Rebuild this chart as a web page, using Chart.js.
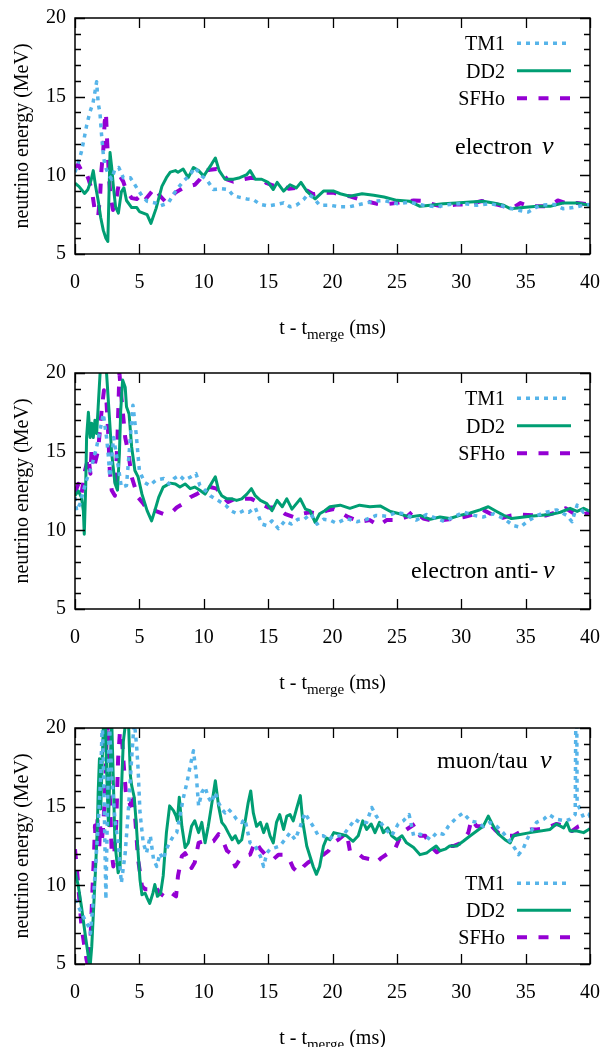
<!DOCTYPE html>
<html><head><meta charset="utf-8">
<script src="https://cdn.jsdelivr.net/npm/chart.js@4.4.0/dist/chart.umd.min.js"></script>
<style>
html,body{margin:0;padding:0;background:#fff;overflow:hidden;width:608px;height:1047px;}
.p{position:absolute;left:0;width:608px;height:355px;}
canvas{display:block;}
</style></head><body>
<div class="p" style="top:0px"><canvas id="c1" width="608" height="355"></canvas></div>
<div class="p" style="top:355px"><canvas id="c2" width="608" height="355"></canvas></div>
<div class="p" style="top:710px"><canvas id="c3" width="608" height="355"></canvas></div>
<script>
// ---- axis ticks ----
const xTicks = [0, 5, 10, 15, 20, 25, 30, 35, 40];
const yTicks = [5, 10, 15, 20];
const seriesNames = ['TM1', 'DD2', 'SFHo'];
const panelLabels = ['electron', 'electron anti-', 'muon/tau'];

// ---- panel 1: electron neutrino, [t (ms), energy (MeV)] ----
const nue_TM1 = [[0,10.2],[0.25,10.8],[0.5,11.5],[0.65,12.1],[0.9,13.15],[1.15,14.0],[1.4,14.6],[1.55,15.3],[1.68,15.95],[1.8,14.6],[1.94,13.96],[2.05,12.7],[2.2,11.3],[2.33,10.6],[2.6,10.05],[2.85,9.75],[3.1,10.4],[3.4,10.5],[3.75,9.85],[4.3,9.85],[4.8,9.2],[5.2,8.7],[5.6,8.35],[6.2,8.25],[6.6,8.05],[7.25,8.25],[7.9,9.1],[8.4,9.6],[8.95,10.05],[9.3,10.5],[9.85,9.95],[10.2,9.75],[10.5,9.4],[10.75,9.1],[11.4,9.15],[11.9,9.1],[12.3,8.7],[12.8,8.6],[13.35,8.5],[13.85,8.45],[14.4,8.15],[15.0,8.05],[15.7,8.15],[16.2,8.25],[16.7,8.0],[17.2,8.1],[17.75,8.45],[18.1,8.8],[18.5,8.6],[19.0,8.1],[19.8,8.1],[20.5,8.0],[21.3,8.0],[22.1,8.15],[23.2,8.35],[24.0,8.4],[25.0,8.2],[26.0,8.3],[27.05,8.1],[28.1,8.0],[29.1,8.15],[30.2,8.2],[31.2,8.1],[32.2,8.2],[33.3,8.03],[34.3,7.8],[35.2,7.67],[36.1,8.1],[37.2,8.15],[37.9,7.88],[38.7,7.95],[39.5,8.1],[40.0,8.15]];
const nue_DD2 = [[0,9.5],[0.3,9.3],[0.75,8.85],[1.0,9.1],[1.25,9.7],[1.42,10.3],[1.6,9.3],[1.8,8.4],[2.0,7.3],[2.2,6.5],[2.4,6.0],[2.55,5.8],[2.72,11.45],[2.85,10.5],[2.98,9.3],[3.15,8.0],[3.37,7.6],[3.6,8.95],[3.8,9.2],[4.0,8.4],[4.4,7.95],[4.8,7.95],[5.0,7.7],[5.3,7.6],[5.6,7.5],[5.9,6.95],[6.3,7.9],[6.75,9.3],[7.1,9.85],[7.4,10.2],[7.8,10.3],[8.0,10.2],[8.4,10.4],[8.8,9.85],[9.2,10.5],[9.6,10.3],[10.0,9.95],[10.35,10.4],[10.6,10.7],[10.9,11.1],[11.2,10.3],[11.65,9.75],[12.3,9.75],[12.8,9.85],[13.35,10.05],[13.6,10.3],[14.0,9.75],[14.5,9.75],[15.0,9.55],[15.4,9.1],[15.7,9.55],[16.2,9.0],[16.7,9.4],[17.2,9.2],[17.55,9.55],[18.0,9.0],[18.65,8.5],[19.3,9.0],[20.1,9.0],[20.6,8.83],[21.35,8.67],[22.3,8.83],[23.2,8.73],[24.0,8.62],[25.0,8.41],[26.0,8.35],[26.8,8.03],[27.6,8.1],[28.6,8.2],[29.6,8.24],[30.7,8.3],[31.7,8.35],[32.5,8.24],[33.3,8.1],[33.8,7.88],[34.8,7.95],[35.9,8.03],[36.9,8.03],[37.9,8.24],[39.0,8.24],[40.0,8.1]];
const nue_SFHo = [[0,10.5],[0.25,10.7],[0.5,10.3],[0.8,10.3],[1.05,9.75],[1.3,9.1],[1.55,7.7],[1.8,7.4],[1.95,8.7],[2.05,10.3],[2.2,11.65],[2.3,13.35],[2.4,14.0],[2.5,12.1],[2.65,9.75],[2.75,8.7],[2.95,7.8],[3.2,8.45],[3.5,9.95],[3.75,9.6],[3.95,9.1],[4.4,8.55],[4.8,8.5],[5.2,8.8],[5.45,8.45],[5.8,8.8],[6.2,9.2],[6.6,8.7],[7.0,8.35],[7.4,8.55],[7.8,8.9],[8.3,9.15],[8.8,9.3],[9.3,9.4],[9.7,9.75],[10.1,10.3],[10.5,10.35],[11.0,10.4],[11.4,10.2],[11.8,9.75],[12.3,9.6],[13.1,9.75],[13.7,9.85],[14.4,9.75],[14.9,9.5],[15.4,9.35],[16.2,9.3],[16.6,9.15],[17.2,9.2],[17.9,9.1],[18.5,8.8],[19.3,8.9],[20.1,8.9],[20.6,8.73],[21.35,8.67],[22.4,8.4],[23.4,8.2],[24.1,8.15],[25.5,8.3],[26.3,8.4],[27.05,8.37],[27.6,8.2],[28.6,8.0],[29.6,8.15],[30.2,8.15],[31.0,8.24],[31.6,8.37],[32.5,8.2],[33.0,8.1],[33.9,7.88],[34.6,8.24],[35.3,8.03],[36.0,8.03],[36.8,8.03],[37.5,8.4],[38.3,8.2],[39.0,8.24],[39.5,8.2],[40.0,8.15]];

// ---- panel 2: electron anti-neutrino ----
const nuebar_TM1 = [[0,12.1],[0.13,11.25],[0.4,11.7],[0.65,12.5],[0.9,13.2],[1.17,13.8],[1.42,14.45],[1.68,15.3],[1.94,16.35],[2.2,17.4],[2.45,15.9],[2.6,14.65],[2.7,13.4],[2.85,14.65],[3.0,15.9],[3.25,14.65],[3.6,12.75],[4.0,12.85],[4.3,15.9],[4.5,17.95],[4.75,16.15],[5.0,13.8],[5.4,13.05],[5.8,12.85],[6.3,13.2],[6.9,13.3],[7.3,12.95],[7.7,13.3],[8.1,13.5],[8.5,13.2],[9.0,13.4],[9.4,13.6],[9.7,12.85],[10.1,12.55],[10.5,12.2],[10.9,12.0],[11.3,11.8],[11.7,11.6],[12.1,11.25],[12.6,11.05],[13.1,11.25],[13.5,11.15],[14.0,11.45],[14.5,10.4],[14.9,10.3],[15.3,10.6],[15.8,10.1],[16.3,10.6],[16.8,10.4],[17.3,10.7],[17.8,10.7],[18.3,11.05],[18.8,10.4],[19.3,10.7],[19.8,10.65],[20.3,10.45],[21.1,10.75],[21.9,10.55],[22.65,10.7],[23.4,10.95],[24.2,10.9],[25.0,11.15],[25.75,11.0],[26.5,10.65],[27.3,11.0],[28.1,10.75],[28.7,10.55],[29.4,10.85],[30.2,11.15],[31.0,10.95],[31.7,10.85],[32.5,11.05],[33.3,10.75],[34.05,10.3],[34.6,10.2],[35.1,10.55],[35.9,10.95],[36.6,11.15],[37.4,11.3],[38.2,10.95],[38.6,10.55],[39.0,11.6],[39.5,11.15],[40.0,11.25]];
const nuebar_DD2 = [[0,12.2],[0.26,12.5],[0.5,12.1],[0.65,11.25],[0.72,9.75],[0.83,12.75],[0.9,15.9],[1.04,17.5],[1.17,15.9],[1.3,16.8],[1.42,15.9],[1.55,17.0],[1.68,16.15],[1.8,17.85],[1.95,20.0],[2.1,21.5],[2.3,21.0],[2.45,20.0],[2.6,18.1],[2.85,14.9],[3.1,13.0],[3.3,12.55],[3.45,14.9],[3.55,17.6],[3.7,19.55],[3.9,19.1],[4.0,17.85],[4.2,17.4],[4.4,15.3],[4.65,13.8],[4.9,13.4],[5.2,12.3],[5.6,11.25],[5.95,10.6],[6.2,11.25],[6.5,12.1],[6.85,12.75],[7.4,13.0],[7.8,12.95],[8.15,12.75],[8.55,12.95],[8.95,12.65],[9.3,12.75],[9.7,12.55],[10.1,12.3],[10.5,12.85],[10.9,13.4],[11.15,12.55],[11.4,12.2],[11.8,12.0],[12.2,12.0],[12.55,11.9],[12.95,12.0],[13.35,12.3],[13.7,12.65],[14.0,12.2],[14.4,11.9],[14.9,11.7],[15.3,11.25],[15.7,11.9],[16.1,11.5],[16.45,12.0],[16.85,11.35],[17.5,12.0],[17.9,11.35],[18.25,11.25],[18.65,10.5],[19.0,11.05],[19.4,11.25],[19.8,11.5],[20.6,11.6],[21.35,11.4],[22.1,11.6],[22.9,11.5],[23.7,11.55],[24.5,11.2],[25.2,11.05],[26.0,10.85],[26.8,10.95],[27.6,10.7],[28.35,10.85],[29.1,10.75],[29.9,10.95],[30.7,11.1],[31.45,11.3],[32.1,11.5],[32.75,11.2],[33.3,10.95],[33.9,10.75],[35.35,10.9],[36.9,11.0],[37.7,11.15],[38.45,11.4],[39.0,11.2],[39.5,11.4],[40.0,11.2]];
const nuebar_SFHo = [[0,12.4],[0.26,12.95],[0.5,12.3],[0.78,13.8],[1.04,14.65],[1.2,13.6],[1.3,15.3],[1.45,13.9],[1.55,14.25],[1.8,15.1],[2.07,17.65],[2.25,18.9],[2.45,18.1],[2.6,15.9],[2.7,13.8],[2.85,12.55],[3.1,12.2],[3.3,15.9],[3.45,20.0],[3.6,18.5],[3.9,15.9],[4.15,14.9],[4.4,13.4],[4.65,12.75],[4.9,12.1],[5.3,11.7],[5.7,11.25],[6.2,11.25],[6.85,11.05],[7.4,11.05],[7.9,11.45],[8.4,11.7],[8.95,12.1],[9.45,12.3],[9.95,12.55],[10.5,12.75],[11.0,12.65],[11.4,12.2],[11.9,11.8],[12.4,12.0],[13.1,12.0],[13.7,12.0],[14.4,11.7],[15.0,11.45],[15.7,11.45],[16.3,11.05],[16.95,10.85],[17.6,11.05],[18.25,11.15],[18.9,11.05],[19.55,11.25],[20.1,11.35],[20.6,11.15],[21.2,10.85],[22.1,10.55],[22.9,10.65],[23.6,10.3],[24.2,10.65],[25.0,10.65],[25.75,10.85],[26.3,11.25],[27.05,10.75],[27.6,10.65],[28.6,10.65],[29.4,10.75],[30.2,10.85],[31.2,11.05],[31.7,11.3],[32.5,10.95],[33.0,10.75],[33.9,10.95],[34.6,11.0],[35.6,10.95],[36.6,10.95],[37.4,11.15],[38.1,11.4],[38.7,11.1],[39.5,11.0],[40.0,11.15]];

// ---- panel 3: muon/tau neutrino ----
const numu_TM1 = [[0,9.1],[0.26,8.65],[0.5,8.25],[0.78,7.8],[1.04,7.4],[1.2,6.95],[1.42,9.1],[1.63,11.65],[1.8,13.8],[2.0,17.0],[2.12,20.5],[2.25,15.9],[2.4,9.1],[2.5,13.8],[2.67,20.5],[2.85,17.0],[3.1,14.2],[3.35,12.7],[3.6,10.15],[3.9,12.05],[4.15,14.85],[4.4,18.05],[4.6,20.5],[4.8,18.7],[4.9,17.4],[5.05,14.6],[5.3,12.7],[5.55,12.05],[5.85,13.15],[6.1,11.65],[6.35,11.2],[6.6,12.05],[6.85,11.65],[7.1,12.3],[7.4,12.8],[7.65,13.15],[7.9,13.35],[8.15,14.4],[8.4,15.5],[8.7,16.55],[8.95,17.6],[9.2,18.55],[9.4,17.2],[9.6,15.05],[9.85,15.9],[10.1,16.25],[10.35,15.6],[10.6,15.25],[10.9,15.9],[11.15,15.25],[11.4,14.85],[11.65,14.6],[11.9,14.85],[12.2,14.6],[12.55,14.2],[12.95,14.0],[13.2,14.2],[13.6,12.7],[14.0,12.5],[14.4,11.85],[14.65,11.2],[14.9,12.05],[15.15,12.3],[15.55,12.4],[15.9,12.5],[16.3,12.9],[16.7,13.35],[17.1,12.9],[17.5,13.75],[17.85,14.6],[18.15,14.2],[18.5,13.75],[18.9,13.15],[19.3,13.15],[19.7,12.9],[20.1,13.15],[20.8,13.15],[21.35,13.75],[21.75,14.2],[22.1,14.0],[22.65,14.0],[23.05,14.95],[23.4,14.4],[23.95,13.75],[24.6,13.15],[25.1,13.9],[25.5,14.1],[25.95,14.5],[26.3,13.15],[26.8,13.25],[27.2,13.15],[27.6,12.9],[28.1,13.35],[28.6,13.25],[29.0,13.75],[29.4,14.1],[29.8,14.4],[30.15,14.6],[30.7,14.1],[31.2,14.0],[31.7,13.75],[32.2,14.0],[32.75,13.75],[33.25,13.35],[33.8,12.8],[34.2,12.3],[34.45,11.95],[34.8,12.3],[35.1,12.9],[35.5,13.55],[35.85,14.0],[36.4,14.2],[36.8,14.5],[37.4,14.2],[38.1,14.1],[38.45,14.2],[38.85,14.5],[38.9,21.0],[38.97,21.0],[39.0,15.25],[39.5,14.3],[39.9,14.4],[40.0,14.6]];
const numu_DD2 = [[0,10.9],[0.26,9.95],[0.5,8.65],[0.78,6.95],[1.04,5.45],[1.17,4.8],[1.3,6.1],[1.48,9.1],[1.63,11.65],[1.74,13.8],[1.8,15.9],[1.9,18.05],[2.0,14.85],[2.1,17.6],[2.2,20.0],[2.35,21.0],[2.45,17.4],[2.6,13.8],[2.7,17.0],[2.85,20.5],[3.0,16.0],[3.1,12.7],[3.35,10.8],[3.5,11.2],[3.6,15.9],[3.75,19.1],[3.95,20.5],[4.15,20.5],[4.3,17.0],[4.4,16.35],[4.6,15.6],[4.75,14.0],[4.9,12.1],[5.05,10.35],[5.2,9.4],[5.45,9.5],[5.6,9.2],[5.8,8.85],[6.05,9.5],[6.2,10.05],[6.4,9.3],[6.65,9.5],[6.85,10.6],[7.1,13.35],[7.35,15.05],[7.65,14.75],[7.85,14.4],[7.95,14.1],[8.1,15.6],[8.3,13.75],[8.55,12.4],[8.8,12.7],[9.05,13.75],[9.3,14.1],[9.6,13.35],[9.85,14.0],[10.1,12.7],[10.35,13.75],[10.6,15.05],[10.9,16.65],[11.15,15.05],[11.4,14.0],[11.65,13.75],[11.9,13.35],[12.2,12.9],[12.45,13.15],[12.7,12.7],[12.95,12.9],[13.2,14.0],[13.45,15.25],[13.65,16.0],[13.85,14.6],[14.1,13.75],[14.4,14.0],[14.65,13.35],[14.9,13.9],[15.15,13.15],[15.4,12.7],[15.65,14.0],[15.9,14.5],[16.2,13.55],[16.45,14.4],[16.7,14.5],[16.95,14.1],[17.2,14.85],[17.5,15.7],[17.7,14.0],[18.0,12.5],[18.25,11.85],[18.5,11.2],[18.75,10.7],[19.0,11.2],[19.3,12.5],[19.55,13.0],[19.8,12.9],[20.1,13.35],[20.6,13.25],[21.1,13.15],[21.6,12.8],[22.0,13.15],[22.35,14.1],[22.65,13.55],[23.0,13.9],[23.3,13.35],[23.65,14.0],[23.95,13.35],[24.3,13.65],[24.6,13.15],[25.0,12.9],[25.4,13.15],[25.75,12.7],[26.3,12.4],[26.8,11.95],[27.3,12.05],[27.7,12.3],[28.05,12.5],[28.35,12.2],[28.75,12.3],[29.1,12.5],[29.65,12.5],[30.15,12.8],[30.7,13.15],[31.2,13.45],[31.7,13.75],[32.1,14.4],[32.5,13.75],[32.9,13.25],[33.4,12.9],[33.8,12.7],[34.05,13.15],[35.35,13.35],[36.9,13.55],[37.4,13.9],[37.95,13.65],[38.2,14.0],[38.45,13.45],[39.0,13.45],[39.5,13.35],[39.9,13.55],[40.0,13.6]];
const numu_SFHo = [[0,12.3],[0.13,11.2],[0.34,9.1],[0.5,7.4],[0.7,6.3],[0.9,5.25],[1.04,4.8],[1.2,6.55],[1.37,9.95],[1.48,12.05],[1.55,13.8],[1.62,12.4],[1.68,12.9],[1.75,14.2],[1.8,13.35],[1.88,12.3],[1.95,13.8],[2.07,12.7],[2.2,13.8],[2.33,15.9],[2.45,19.1],[2.6,20.5],[2.7,15.9],[2.85,12.05],[2.98,11.2],[3.2,13.8],[3.35,18.05],[3.55,20.5],[3.75,18.05],[3.95,15.9],[4.15,15.5],[4.3,15.05],[4.5,15.9],[4.7,14.0],[4.9,11.65],[5.2,9.95],[5.45,9.75],[5.8,9.75],[6.2,9.95],[6.6,9.5],[7.1,9.2],[7.5,9.5],[7.85,9.3],[8.0,10.6],[8.3,11.85],[8.55,12.05],[8.8,11.65],[9.05,11.1],[9.3,11.45],[9.6,12.7],[9.95,12.8],[10.35,12.7],[10.75,12.8],[11.15,13.25],[11.5,12.8],[11.8,12.2],[12.05,12.05],[12.45,11.2],[12.8,11.65],[13.2,11.85],[13.6,11.95],[14.0,12.8],[14.4,12.3],[14.9,11.85],[15.4,11.65],[15.8,11.95],[16.2,11.95],[16.6,11.75],[16.95,11.1],[17.35,10.8],[17.75,11.2],[18.1,11.45],[18.5,11.65],[18.9,11.85],[19.3,11.95],[19.7,12.2],[20.1,12.7],[20.45,12.9],[21.1,13.35],[21.35,12.2],[21.85,12.1],[22.4,11.75],[23.0,11.65],[23.4,11.45],[23.8,11.75],[24.45,12.1],[24.85,12.3],[25.4,13.35],[25.75,13.55],[26.4,13.9],[26.8,13.15],[27.2,13.15],[27.6,12.5],[28.1,12.1],[28.75,12.5],[29.4,12.5],[30.0,12.7],[30.55,13.35],[30.8,14.2],[31.2,13.75],[31.7,13.75],[32.1,14.0],[32.6,13.55],[33.0,13.25],[33.5,13.15],[34.05,13.15],[34.7,13.45],[35.35,13.55],[35.85,13.55],[36.65,13.65],[37.4,13.9],[38.1,13.75],[38.6,13.45],[39.1,13.75],[39.6,13.9],[40.0,13.75]];

// ---- styles ----
const FONT = "'Liberation Serif', 'Times New Roman', serif";
Chart.defaults.font.family = FONT;
const styles = {
  TM1:  {color:'#56b4e9', width:3.5, dash:[4,5]},
  DD2:  {color:'#009e73', width:3,   dash:[]},
  SFHo: {color:'#9400d3', width:4,   dash:[10,11.5]}
};

function mkDataset(name, pts){
  const s = styles[name];
  return {label:name, data:pts.map(p=>({x:p[0], y:p[1]})), borderColor:s.color, borderWidth:s.width,
    borderDash:s.dash, borderCapStyle:'butt', borderJoinStyle:'round', pointRadius:0, tension:0, fill:false, clip:0};
}

function framePlugin(cfg){
  return {
    id:'frame',
    afterDraw(chart){
      const {ctx, chartArea:{left,right,top,bottom}, scales:{x,y}} = chart;
      ctx.save();
      ctx.strokeStyle = '#000'; ctx.lineWidth = 1.5; ctx.setLineDash([]);
      ctx.strokeRect(left, top, right-left, bottom-top);
      ctx.lineWidth = 1.3;
      ctx.beginPath();
      xTicks.forEach(v => { const px = Math.round(x.getPixelForValue(v))+0.5;
        ctx.moveTo(px,bottom); ctx.lineTo(px,bottom-10); ctx.moveTo(px,top); ctx.lineTo(px,top+10); });
      for (let v = 5; v <= 20; v++) { const py = Math.round(y.getPixelForValue(v))+0.5; const L = (v%5===0)?10:6;
        ctx.moveTo(left,py); ctx.lineTo(left+L,py); ctx.moveTo(right,py); ctx.lineTo(right-L,py); }
      ctx.stroke();
      // y title
      ctx.fillStyle = '#000';
      ctx.font = '20px ' + FONT;
      ctx.save(); ctx.translate(23, (top+bottom)/2); ctx.rotate(-Math.PI/2);
      ctx.textAlign = 'center'; ctx.textBaseline = 'middle';
      ctx.fillText('neutrino energy (MeV)', 0, 0); ctx.restore();
      // x title with subscript
      const a = 't - t', sub = 'merge', b = ' (ms)';
      ctx.font = '20px ' + FONT; const wa = ctx.measureText(a).width, wb = ctx.measureText(b).width;
      ctx.font = '15px ' + FONT; const ws = ctx.measureText(sub).width;
      const cx = (left+right)/2; let sx = cx - (wa+ws+wb)/2; const by = 334;
      ctx.textAlign = 'left'; ctx.textBaseline = 'alphabetic';
      ctx.font = '20px ' + FONT; ctx.fillText(a, sx, by); sx += wa;
      ctx.font = '15px ' + FONT; ctx.fillText(sub, sx, by+5); sx += ws;
      ctx.font = '20px ' + FONT; ctx.fillText(b, sx, by);
      // legend
      chart.data.datasets.forEach((ds, i) => {
        const ly = cfg.legendY[i];
        ctx.fillStyle = '#000';
        ctx.font = '20px ' + FONT; ctx.textAlign = 'right'; ctx.textBaseline = 'alphabetic';
        ctx.fillText(ds.label, 505, ly + 7);
        ctx.strokeStyle = ds.borderColor; ctx.lineWidth = ds.borderWidth; ctx.lineCap = 'butt';
        ctx.setLineDash(ds.borderDash || []);
        ctx.beginPath(); ctx.moveTo(517, ly); ctx.lineTo(571, ly); ctx.stroke();
        ctx.setLineDash([]);
      });
      // panel label
      ctx.fillStyle = '#000'; ctx.textAlign = 'left'; ctx.textBaseline = 'alphabetic';
      ctx.font = '24px ' + FONT; ctx.fillText(cfg.label, cfg.labelX, cfg.labelY);
      ctx.font = 'italic 26px ' + FONT; ctx.fillText('ν', cfg.nuX, cfg.labelY);
      ctx.restore();
    }
  };
}

function makeChart(id, sets, cfg){
  new Chart(document.getElementById(id), {
    type:'line',
    data:{datasets: seriesNames.map((n,i)=>mkDataset(n, sets[i]))},
    options:{
      responsive:false, animation:false, events:[],
      layout:{padding:{top:18, right:18, left:0, bottom:0}},
      plugins:{legend:{display:false}, tooltip:{enabled:false}, title:{display:false}},
      scales:{
        x:{type:'linear', min:0, max:40,
           afterBuildTicks(s){ s.ticks = xTicks.map(v=>({value:v})); },
           ticks:{color:'#000', font:{size:20, family:FONT}, padding:17, maxRotation:0, autoSkip:false},
           grid:{display:false, drawTicks:false}, border:{display:false},
           afterFit(s){ s.height = 101; s.paddingLeft = 0; s.paddingRight = 0; }},
        y:{type:'linear', min:5, max:20,
           afterBuildTicks(s){ s.ticks = yTicks.map(v=>({value:v})); },
           ticks:{color:'#000', font:{size:20, family:FONT}, padding:9},
           grid:{display:false, drawTicks:false}, border:{display:false},
           afterFit(s){ s.width = 75; s.paddingTop = 0; s.paddingBottom = 0; }}
      }
    },
    plugins:[framePlugin(cfg)]
  });
}

makeChart('c1', [nue_TM1, nue_DD2, nue_SFHo], {legendY:[43.3,70.8,98.3], label:panelLabels[0], labelX:455, nuX:542, labelY:154});
makeChart('c2', [nuebar_TM1, nuebar_DD2, nuebar_SFHo], {legendY:[43.3,70.8,98.3], label:panelLabels[1], labelX:411, nuX:543, labelY:223});
makeChart('c3', [numu_TM1, numu_DD2, numu_SFHo], {legendY:[173.3,200.3,227.3], label:panelLabels[2], labelX:437, nuX:540, labelY:58});
</script>
</body></html>
